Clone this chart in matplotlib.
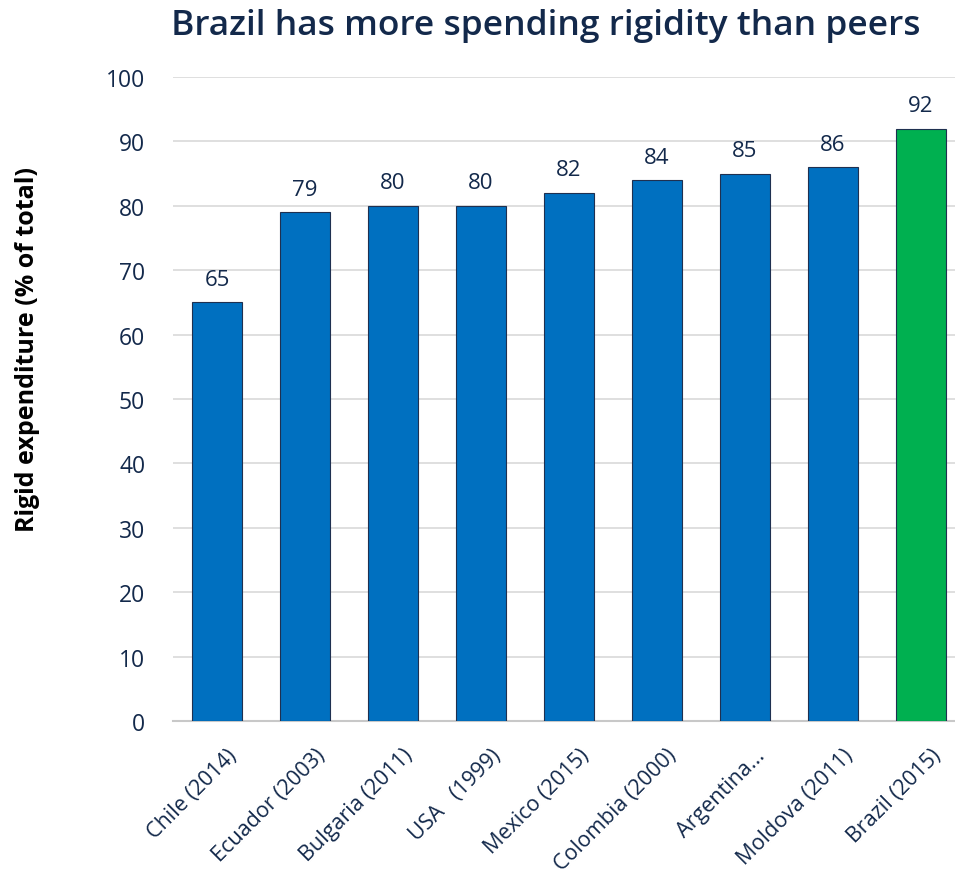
import matplotlib
matplotlib.use("Agg")
import matplotlib.pyplot as plt
import matplotlib.transforms as mtransforms

categories = ["Chile (2014)", "Ecuador (2003)", "Bulgaria (2011)", "USA   (1999)",
              "Mexico (2015)", "Colombia (2000)", "Argentina...", "Moldova (2011)",
              "Brazil (2015)"]
values = [65, 79, 80, 80, 82, 84, 85, 86, 92]
colors = ["#0070C0"] * 8 + ["#00B050"]
yticks = [0, 10, 20, 30, 40, 50, 60, 70, 80, 90, 100]

plt.rcParams['font.family'] = ['Open Sans', 'DejaVu Sans']
navy = "#13294B"

fig = plt.figure(figsize=(9.55, 8.79), dpi=100)
ax = fig.add_axes([173/955, 1-722/879, (955-173)/955, (722-78)/879])

x = range(len(categories))
ax.bar(x, values, width=0.57, color=colors, edgecolor="#1F3050", linewidth=0.8, zorder=3)
for xi, v in zip(x, values):
    ax.annotate(f"{v}", (xi, v), xytext=(0, 9), textcoords="offset points",
                ha="center", va="bottom", fontsize=16, color=navy)

ax.set_xlim(-0.5, 8.39)
ax.set_ylim(0, 100)
ax.set_yticks(yticks)
ax.set_yticklabels([str(t) for t in yticks], fontsize=16.5, color=navy)
ax.yaxis.grid(True, color="#D9D9D9", linewidth=1.2, zorder=0)
ax.set_axisbelow(True)
for s in ["top", "right", "left"]:
    ax.spines[s].set_visible(False)
ax.spines["bottom"].set_color("#C8C8C8")
ax.spines["bottom"].set_linewidth(1.5)
ax.tick_params(axis="both", length=0)
ax.tick_params(axis="y", pad=20)
ax.set_xticks(list(x))
ax.set_xticklabels(categories, rotation=45, ha="right", va="center",
                   rotation_mode="anchor", fontsize=15.5, color=navy)
ax.tick_params(axis="x", pad=0)
offset = mtransforms.ScaledTranslation(17/100, -31/100, fig.dpi_scale_trans)
for lbl in ax.get_xticklabels():
    lbl.set_transform(lbl.get_transform() + offset)

fig.text(28/955, 1-350/879, "Rigid expenditure (% of total)", rotation=90,
         ha="center", va="center", fontsize=18, fontweight="bold", color="black")
fig.text(546/955, 1-26/879, "Brazil has more spending rigidity than peers",
         ha="center", va="center", fontsize=25.5, fontweight="semibold", color=navy)

fig.savefig("out.png", dpi=100)
